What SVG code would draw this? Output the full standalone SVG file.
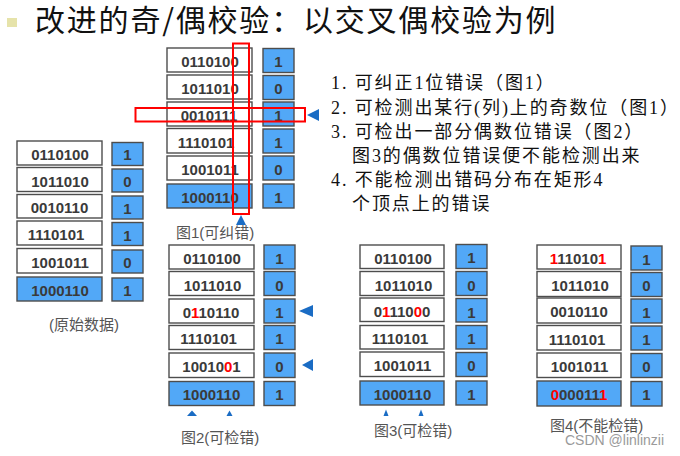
<svg xmlns="http://www.w3.org/2000/svg" width="680" height="456" viewBox="0 0 680 456">
<style>
.d{fill:#ffffff;stroke:#4d4d4d;stroke-width:1.4}
.b{fill:#52a8f7;stroke:#4d4d4d;stroke-width:1.4}
.t{font-family:"Liberation Sans",Arial,sans-serif;font-size:15px;font-weight:bold;fill:#3a3a3a;text-anchor:middle}
.r{fill:#ff0000}
.lbl{font-family:"Liberation Sans","Noto Sans CJK SC",sans-serif;font-size:15px;fill:#555555}
.note{font-family:"Liberation Serif","Noto Sans CJK SC",serif;font-size:18px;letter-spacing:1.9px;fill:#111111}
.tri{fill:#1a6cc4}
.hl{fill:none;stroke:#ff0000;stroke-width:2}
</style>
<rect width="680" height="456" fill="#ffffff"/>
<g id="title">
<rect x="7" y="18" width="10" height="9" fill="#e6e3aa"/>
<text x="35" y="31" style="font-family:'Noto Sans CJK SC',sans-serif;font-size:30px;letter-spacing:1.8px;fill:#111111">改进的奇/偶校验：以交叉偶校验为例</text>
</g>
<g id="original">
<rect class="d" x="17" y="141" width="85" height="24"/><text class="t" x="60" y="160">0110100</text>
<rect class="b" x="112" y="142.5" width="31" height="23"/><text class="t" x="127.5" y="160">1</text>
<rect class="d" x="17" y="167.5" width="85" height="24"/><text class="t" x="60" y="186.5">1011010</text>
<rect class="b" x="112" y="169" width="31" height="23"/><text class="t" x="127.5" y="186.5">0</text>
<rect class="d" x="17" y="194.5" width="85" height="23.5"/><text class="t" x="59.5" y="213">0010110</text>
<rect class="b" x="112" y="196" width="31" height="23"/><text class="t" x="127.5" y="213.5">1</text>
<rect class="d" x="17" y="221" width="85" height="24"/><text class="t" x="56" y="240">1110101</text>
<rect class="b" x="112" y="222.5" width="31" height="23"/><text class="t" x="127.5" y="240.5">1</text>
<rect class="d" x="17" y="248.5" width="85" height="24.5"/><text class="t" x="60" y="267.5">1001011</text>
<rect class="b" x="112" y="250" width="31" height="23"/><text class="t" x="127.5" y="267.5">0</text>
<rect class="b" x="17" y="277" width="85" height="24"/><text class="t" x="60" y="295.5">1000110</text>
<rect class="b" x="112" y="278" width="31" height="23"/><text class="t" x="127.5" y="295.5">1</text>
<text class="lbl" x="84" y="330" text-anchor="middle">(原始数据)</text>
</g>
<g id="fig1">
<rect class="d" x="167" y="48" width="85" height="24"/><text class="t" x="210" y="67">0110100</text>
<rect class="b" x="263" y="48.5" width="31" height="24"/><text class="t" x="278.5" y="67">1</text>
<rect class="d" x="167" y="75" width="85" height="24"/><text class="t" x="210" y="94">1011010</text>
<rect class="b" x="263" y="75.5" width="31" height="24"/><text class="t" x="278.5" y="94">0</text>
<rect class="d" x="167" y="102" width="85" height="24"/><text class="t" x="209" y="120.5">0010111</text>
<rect class="b" x="263" y="102" width="31" height="24"/><text class="t" x="278.5" y="120.5">1</text>
<rect class="d" x="167" y="128.5" width="85" height="24.5"/><text class="t" x="206" y="147.5">1110101</text>
<rect class="b" x="263" y="129" width="31" height="24"/><text class="t" x="278.5" y="147.5">1</text>
<rect class="d" x="167" y="156" width="85" height="24"/><text class="t" x="210" y="175">1001011</text>
<rect class="b" x="263" y="156" width="31" height="24"/><text class="t" x="278.5" y="174.5">0</text>
<rect class="b" x="167" y="184" width="85" height="24"/><text class="t" x="210" y="202.5">1000110</text>
<rect class="b" x="263" y="184" width="31" height="24"/><text class="t" x="278.5" y="202.5">1</text>
<text class="lbl" x="176" y="238">图1(可纠错)</text>
</g>
<g id="fig2">
<rect class="d" x="169" y="245" width="85" height="24"/><text class="t" x="212" y="264">0110100</text>
<rect class="b" x="264" y="245" width="31" height="24"/><text class="t" x="279.5" y="264">1</text>
<rect class="d" x="169" y="271.5" width="85" height="24"/><text class="t" x="212.5" y="290.5">1011010</text>
<rect class="b" x="264" y="271.5" width="31" height="24"/><text class="t" x="279.5" y="290.5">0</text>
<rect class="d" x="169" y="299" width="85" height="24"/><text class="t" x="211" y="318">0<tspan class="r">1</tspan>10110</text>
<rect class="b" x="264" y="299" width="31" height="24"/><text class="t" x="279.5" y="318">1</text>
<rect class="d" x="169" y="325.5" width="85" height="24"/><text class="t" x="208.5" y="344">1110101</text>
<rect class="b" x="264" y="325.5" width="31" height="24"/><text class="t" x="279.5" y="344">1</text>
<rect class="d" x="169" y="353" width="85" height="24.5"/><text class="t" x="211.5" y="372">10010<tspan class="r">0</tspan>1</text>
<rect class="b" x="264" y="353" width="31" height="24.5"/><text class="t" x="279.5" y="372">0</text>
<rect class="b" x="169" y="381.5" width="85" height="24"/><text class="t" x="211.5" y="400">1000110</text>
<rect class="b" x="264" y="381.5" width="31" height="24"/><text class="t" x="279.5" y="400">1</text>
<text class="lbl" x="181" y="443">图2(可检错)</text>
</g>
<g id="fig3">
<rect class="d" x="360" y="245" width="84" height="23.5"/><text class="t" x="403" y="263.5">0110100</text>
<rect class="b" x="456" y="244.5" width="31" height="24"/><text class="t" x="471.5" y="263">1</text>
<rect class="d" x="360" y="271.5" width="84" height="24"/><text class="t" x="403.5" y="290.5">1011010</text>
<rect class="b" x="456" y="271.5" width="31" height="24"/><text class="t" x="471.5" y="290.5">0</text>
<rect class="d" x="360" y="298" width="84" height="23.5"/><text class="t" x="402" y="316.5">0<tspan class="r">1</tspan>110<tspan class="r">0</tspan>0</text>
<rect class="b" x="456" y="298.5" width="31" height="23.5"/><text class="t" x="471.5" y="317.5">1</text>
<rect class="d" x="360" y="325.5" width="84" height="23.5"/><text class="t" x="400" y="344">1110101</text>
<rect class="b" x="456" y="325.5" width="31" height="23.5"/><text class="t" x="471.5" y="344">1</text>
<rect class="d" x="360" y="352" width="84" height="24.5"/><text class="t" x="402.5" y="371">1001011</text>
<rect class="b" x="456" y="352.5" width="31" height="24"/><text class="t" x="471.5" y="371">0</text>
<rect class="b" x="360" y="381" width="84" height="24"/><text class="t" x="402.5" y="399.5">1000110</text>
<rect class="b" x="456" y="381" width="31" height="24"/><text class="t" x="471.5" y="399.5">1</text>
<text class="lbl" x="374" y="436">图3(可检错)</text>
</g>
<g id="fig4">
<rect class="d" x="537" y="245" width="84" height="24"/><text class="t" x="578" y="264"><tspan class="r">1</tspan>11010<tspan class="r">1</tspan></text>
<rect class="b" x="631" y="246" width="31" height="24"/><text class="t" x="646.5" y="264.5">1</text>
<rect class="d" x="537" y="271.5" width="84" height="25"/><text class="t" x="580" y="291">1011010</text>
<rect class="b" x="631" y="272.5" width="31" height="24"/><text class="t" x="646.5" y="291">0</text>
<rect class="d" x="537" y="298" width="84" height="25"/><text class="t" x="579" y="317">0010110</text>
<rect class="b" x="631" y="299" width="31" height="24"/><text class="t" x="646.5" y="318">1</text>
<rect class="d" x="537" y="325.5" width="84" height="24.5"/><text class="t" x="577" y="344.5">1110101</text>
<rect class="b" x="631" y="326" width="31" height="24"/><text class="t" x="646.5" y="345">1</text>
<rect class="d" x="537" y="353" width="84" height="24.5"/><text class="t" x="579.5" y="372">1001011</text>
<rect class="b" x="631" y="353.5" width="31" height="24"/><text class="t" x="646.5" y="372">0</text>
<rect class="b" x="537" y="381" width="84" height="25"/><text class="t" x="579" y="400"><tspan class="r">0</tspan>00011<tspan class="r">1</tspan></text>
<rect class="b" x="631" y="381.5" width="31" height="24.5"/><text class="t" x="646.5" y="400">1</text>
<text class="lbl" x="550" y="431">图4(不能检错)</text>
</g>
<g id="notes" class="note">
<text x="331" y="89">1. 可纠正1位错误（图1）</text>
<text x="331" y="113.5">2. 可检测出某行(列)上的奇数位（图1）</text>
<text x="331" y="138">3. 可检出一部分偶数位错误（图2）</text>
<text x="352" y="162">图3的偶数位错误便不能检测出来</text>
<text x="331" y="186">4. 不能检测出错码分布在矩形4</text>
<text x="352" y="210">个顶点上的错误</text>
</g>
<g id="highlight">
<rect class="hl" x="233" y="43.5" width="16" height="170.5"/>
<rect class="hl" x="135.5" y="108" width="169.5" height="13.5"/>
</g>
<g id="connectors">
<polygon class="tri" points="307,115 319,109 319,121"/>
<polygon class="tri" points="241,215 236,225 246,225"/>
<polygon class="tri" points="299,311 313,305 313,317"/>
<polygon class="tri" points="302,365 313,359 313,371"/>
<polygon class="tri" points="192,410.5 187,416 197,416"/>
<polygon class="tri" points="229.5,410.5 226.5,416 232.5,416"/>
<polygon class="tri" points="386,409.5 383.5,416 388.5,416"/>
<polygon class="tri" points="421,409.5 418.5,416 423.5,416"/>
</g>
<text x="565" y="445" style="font-family:'Liberation Sans',Arial,sans-serif;font-size:14px;fill:#9a9a9a">CSDN @linlinzii</text>
</svg>
